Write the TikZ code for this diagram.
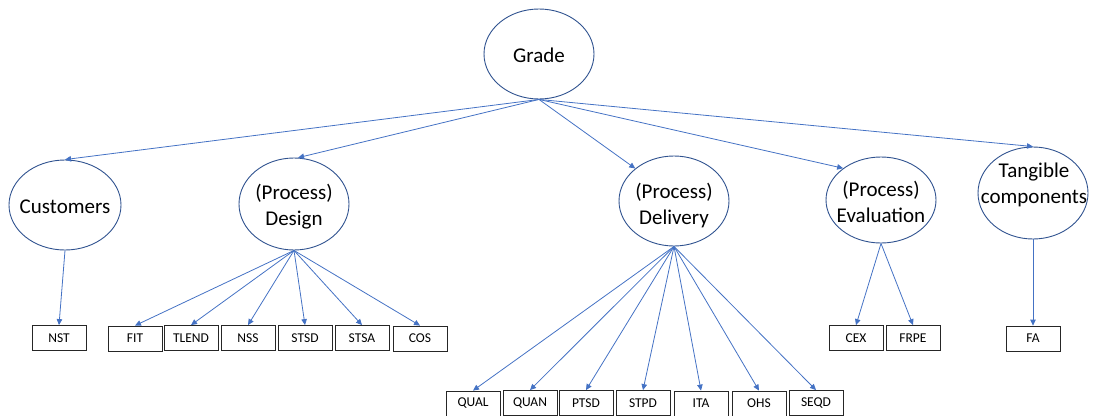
\documentclass[tikz,border=0pt]{standalone}
\usepackage{fontspec}
\setmainfont{Carlito}
\usetikzlibrary{shapes.geometric,arrows.meta}
\definecolor{arrowblue}{HTML}{4472C4}
\definecolor{ellblue}{HTML}{2F528F}
\begin{document}
\begin{tikzpicture}[x=1pt,y=-1pt,
 ell/.style={ellipse,draw=ellblue,line width=0.9pt,minimum width=110pt,minimum height=90pt,inner sep=0pt},
 lbl/.style={font=\fontsize{21}{26}\selectfont,align=center,inner sep=0pt},
 leaf/.style={draw=black!85,line width=0.8pt,minimum width=54pt,minimum height=25pt,inner sep=0pt,font=\fontsize{13.5}{15}\selectfont},
 conn/.style={draw=arrowblue,line width=0.8pt,-{Triangle[length=6pt,width=5.5pt]}}]
\useasboundingbox (0,0) rectangle (1095,415);

% ellipses
\node[ell] (g) at (539,54) {};
\node[lbl] (gt) at (539,55) {Grade};
\node[ell,minimum width=112pt] (cu) at (65,205) {};
\node[lbl] (cut) at (65,207) {Customers};
\node[ell,minimum height=92pt] (de) at (294,204) {};
\node[lbl] (det) at (294,207) {(Process)\\Design};
\node[ell] (dl) at (674,201) {};
\node[lbl] (dlt) at (674,206) {(Process)\\Delivery};
\node[ell,minimum height=86pt] (ev) at (881,200) {};
\node[lbl] (evt) at (881,202) {(Process)\\Evaluation};
\node[ell,minimum height=92pt] (ta) at (1033,193) {};
\node[lbl] (tat) at (1034,185) {Tangible\\components};

% leaves
\node[leaf] (nst) at (59,338) {NST};
\node[leaf] (fit) at (135,338.5) {FIT};
\node[leaf] (tlend) at (191,338) {TLEND};
\node[leaf] (nss) at (248,338) {NSS};
\node[leaf] (stsd) at (305,338) {STSD};
\node[leaf] (stsa) at (362,338) {STSA};
\node[leaf] (cos) at (420,338.5) {COS};

\node[leaf] (qual) at (473,403.5) {QUAL};
\node[leaf] (quan) at (530,403) {QUAN};
\node[leaf] (ptsd) at (586,403) {PTSD};
\node[leaf] (stpd) at (643,403) {STPD};
\node[leaf] (ita) at (701,403.5) {ITA};
\node[leaf] (ohs) at (759,403.5) {OHS};
\node[leaf] (seqd) at (816,403) {SEQD};

\node[leaf] (cex) at (856,338) {CEX};
\node[leaf] (frpe) at (913,338) {FRPE};
\node[leaf] (fa) at (1033,338.5) {FA};

% connectors from Grade
\draw[conn] (g.south) -- (cu.north);
\draw[conn] (g.south) -- (de.85);
\draw[conn] (g.south) -- (dl.140);
\draw[conn] (g.south) -- (ev.140);
\draw[conn] (g.south) -- (ta.north);

% Customers
\draw[conn] (cu.south) -- (nst.north);
% Design
\foreach \t in {fit,tlend,nss,stsd,stsa,cos}
  \draw[conn] (de.south) -- (\t.north);
% Delivery
\foreach \t in {qual,quan,ptsd,stpd,ita,ohs,seqd}
  \draw[conn] (dl.south) -- (\t.north);
% Evaluation
\draw[conn] (ev.south) -- (cex.north);
\draw[conn] (ev.south) -- (frpe.north);
% Tangible
\draw[conn] (ta.south) -- (fa.north);
\end{tikzpicture}
\end{document}
